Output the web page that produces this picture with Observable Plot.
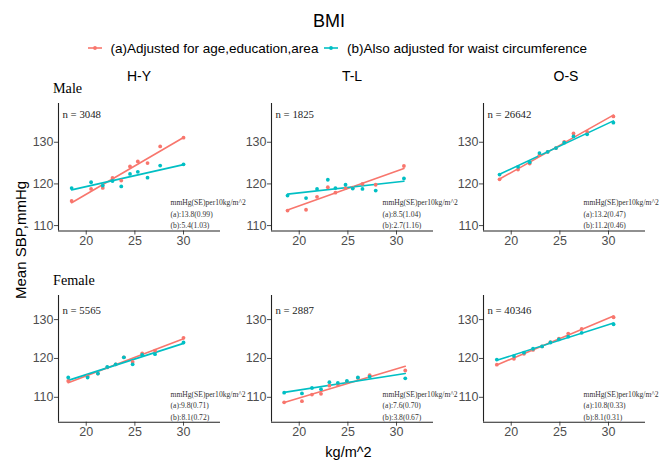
<!DOCTYPE html>
<html>
<head>
<meta charset="utf-8">
<script src="https://cdn.jsdelivr.net/npm/d3@7"></script>
<script src="https://cdn.jsdelivr.net/npm/@observablehq/plot@0.6"></script>
<style>
  html, body { margin: 0; padding: 0; background: #fff; }
  #root { position: relative; width: 669px; height: 462px; overflow: hidden; background: #fff; }
  .panel { position: absolute; }
  #overlay { position: absolute; left: 0; top: 0; }
</style>
</head>
<body>
<div id="root"></div>
<script>
// ---------- data ----------
const chartTitle = "BMI";
const seriesLabels = ["(a)Adjusted for age,education,area", "(b)Also adjusted for waist circumference"];
const columns = ["H-Y", "T-L", "O-S"];
const rows = ["Male", "Female"];
const yTitle = "Mean SBP,mmHg";
const xTitle = "kg/m^2";
const xTicks = [20, 25, 30];
const yTicks = [110, 120, 130];
const nCounts = [[3048, 1825, 26642], [5565, 2887, 40346]];
const noteHeader = "mmHg(SE)per10kg/m^2";
const slopesA = [["13.8(0.99)", "8.5(1.04)", "13.2(0.47)"], ["9.8(0.71)", "7.6(0.70)", "10.8(0.33)"]];
const slopesB = [["5.4(1.03)", "2.7(1.16)", "11.2(0.46)"], ["8.1(0.72)", "3.8(0.67)", "8.1(0.31)"]];

// Male H-Y
const bmiMaleHY = [18.5, 20.5, 21.7, 22.7, 23.6, 24.5, 25.3, 26.3, 27.6, 30.0];
const sbpAMaleHY = [115.9, 118.8, 119.05, 121.45, 120.8, 124.2, 125.4, 125.0, 129.0, 131.1];
const sbpBMaleHY = [119.0, 120.4, 119.6, 120.7, 119.4, 122.4, 122.9, 121.5, 124.4, 124.7];
// Male T-L
const bmiMaleTL = [18.8, 20.7, 21.83, 22.94, 23.72, 24.76, 25.5, 26.5, 27.86, 30.76];
const sbpAMaleTL = [113.6, 113.8, 116.9, 119.2, 117.9, 119.0, 119.1, 120.0, 119.8, 124.3];
const sbpBMaleTL = [117.2, 116.6, 118.8, 121.0, 119.0, 119.8, 118.9, 118.8, 118.4, 121.3];
// Male O-S
const bmiMaleOS = [18.8, 20.7, 21.9, 22.9, 23.75, 24.6, 25.45, 26.4, 27.8, 30.5];
const sbpAMaleOS = [121.1, 123.45, 124.9, 126.9, 127.7, 128.6, 130.1, 132.1, 132.5, 136.2];
const sbpBMaleOS = [122.25, 124.1, 125.2, 127.4, 127.7, 128.6, 129.9, 131.4, 131.9, 134.7];
// Female H-Y
const bmiFemaleHY = [18.15, 20.14, 21.2, 22.16, 23.03, 23.87, 24.77, 25.75, 27.07, 30.0];
const sbpAFemaleHY = [114.2, 115.4, 116.1, 117.7, 118.5, 120.3, 119.1, 121.3, 122.0, 125.3];
const sbpBFemaleHY = [115.1, 115.1, 116.1, 117.8, 118.5, 120.3, 118.5, 120.9, 121.1, 124.1];
// Female T-L
const bmiFemaleTL = [18.45, 20.28, 21.31, 22.24, 23.1, 23.97, 24.9, 26.03, 27.24, 30.9];
const sbpAFemaleTL = [108.7, 109.0, 110.7, 110.9, 113.0, 113.3, 114.0, 115.0, 115.7, 116.9];
const sbpBFemaleTL = [111.2, 111.0, 112.4, 112.1, 113.9, 113.7, 114.2, 115.1, 115.3, 114.9];
// Female O-S
const bmiFemaleOS = [18.52, 20.28, 21.31, 22.24, 23.17, 24.03, 24.9, 25.86, 27.24, 30.52];
const sbpAFemaleOS = [118.4, 119.9, 121.2, 122.2, 123.1, 124.2, 125.1, 126.4, 127.6, 130.6];
const sbpBFemaleOS = [119.7, 120.6, 121.5, 122.5, 123.1, 124.1, 124.9, 125.6, 126.6, 128.8];

const panelData = [
  [[bmiMaleHY, sbpAMaleHY, sbpBMaleHY], [bmiMaleTL, sbpAMaleTL, sbpBMaleTL], [bmiMaleOS, sbpAMaleOS, sbpBMaleOS]],
  [[bmiFemaleHY, sbpAFemaleHY, sbpBFemaleHY], [bmiFemaleTL, sbpAFemaleTL, sbpBFemaleTL], [bmiFemaleOS, sbpAFemaleOS, sbpBFemaleOS]]
];

// ---------- layout / style ----------
const RED = "#F8766D", CYAN = "#00BFC4";
const SANS = "'Liberation Sans', Arial, sans-serif";
const SERIF = "'Liberation Serif', 'Times New Roman', serif";
const xDomain = [17.15, 33.8];
const yDomains = [[108.7, 139.3], [103.6, 136.2]];
const frameLefts = [58, 271, 483];
const frameTops = [103, 295];
const frameW = 162, frameH = [127.5, 126.7];
const mL = 40, mR = 6, mT = 5, mB = 24;
const noteDx = [112, 111, 100];
const nDy = [11, 15];

const root = document.getElementById("root");

function makePanel(r, c) {
  const [bmi, a, b] = panelData[r][c];
  const data = bmi.flatMap((x, i) => [{x, y: a[i], s: "a"}, {x, y: b[i], s: "b"}]);
  const yDom = yDomains[r];
  const noteStyle = {frameAnchor: "bottom-left", textAnchor: "start", lineAnchor: "middle",
    dx: noteDx[c], fontFamily: SERIF, fontSize: 7.6, fill: "#333", text: d => d};
  const p = Plot.plot({
    width: mL + frameW + mR,
    height: mT + frameH[r] + mB,
    marginLeft: mL, marginRight: mR, marginTop: mT, marginBottom: mB,
    style: {fontFamily: SANS, fontSize: "12.5px", color: "#4d4d4d", background: "transparent", overflow: "visible"},
    x: {domain: xDomain, ticks: xTicks, tickSize: 4, tickPadding: 1, label: null},
    y: {domain: yDom, ticks: yTicks, tickSize: 4, tickPadding: 1, label: null},
    color: {domain: ["a", "b"], range: [RED, CYAN]},
    marks: [
      Plot.ruleX([xDomain[0]], {stroke: "#222", strokeWidth: 1.1}),
      Plot.ruleY([yDom[0]], {stroke: "#222", strokeWidth: 1.1}),
      Plot.linearRegressionY(data, {x: "x", y: "y", stroke: "s", ci: 0, strokeWidth: 1.6}),
      Plot.dot(data, {x: "x", y: "y", fill: "s", r: 1.9}),
      Plot.text([`n = ${nCounts[r][c]}`], {frameAnchor: "top-left", textAnchor: "start", lineAnchor: "middle",
        dx: 4, dy: nDy[r], fontFamily: SERIF, fontSize: 10.8, fill: "#222", text: d => d}),
      Plot.text([noteHeader], {...noteStyle, dy: -28}),
      Plot.text([`(a):${slopesA[r][c]}`], {...noteStyle, dy: -16.5}),
      Plot.text([`(b):${slopesB[r][c]}`], {...noteStyle, dy: -5})
    ]
  });
  p.classList.add("panel");
  p.style.left = (frameLefts[c] - mL) + "px";
  p.style.top = (frameTops[r] - mT) + "px";
  root.appendChild(p);
}

for (let r = 0; r < rows.length; r++)
  for (let c = 0; c < columns.length; c++) makePanel(r, c);

// ---------- titles, legend, strips ----------
const ns = "http://www.w3.org/2000/svg";
const ov = document.createElementNS(ns, "svg");
ov.setAttribute("id", "overlay");
ov.setAttribute("width", 669);
ov.setAttribute("height", 462);
root.appendChild(ov);

function txt(str, x, y, opts = {}) {
  const t = document.createElementNS(ns, "text");
  t.textContent = str;
  t.setAttribute("x", x);
  t.setAttribute("y", y);
  t.setAttribute("font-family", opts.family || SANS);
  t.setAttribute("font-size", opts.size || 14);
  t.setAttribute("fill", opts.fill || "#000");
  t.setAttribute("text-anchor", opts.anchor || "middle");
  t.setAttribute("dominant-baseline", "central");
  if (opts.transform) t.setAttribute("transform", opts.transform);
  ov.appendChild(t);
  return t;
}
function glyph(x, y, color) {
  const l = document.createElementNS(ns, "line");
  l.setAttribute("x1", x - 7); l.setAttribute("x2", x + 7);
  l.setAttribute("y1", y); l.setAttribute("y2", y);
  l.setAttribute("stroke", color); l.setAttribute("stroke-width", 1.6);
  ov.appendChild(l);
  const d = document.createElementNS(ns, "circle");
  d.setAttribute("cx", x); d.setAttribute("cy", y); d.setAttribute("r", 1.9);
  d.setAttribute("fill", color);
  ov.appendChild(d);
}

txt(chartTitle, 329, 21, {size: 18});
glyph(95, 48, RED);
txt(seriesLabels[0], 110.5, 48, {size: 13.5, anchor: "start"});
glyph(331, 48, CYAN);
txt(seriesLabels[1], 347, 48, {size: 13.5, anchor: "start"});

const stripX = [139, 352, 566];
columns.forEach((c, i) => txt(c, stripX[i], 76, {size: 14}));
txt(rows[0], 53, 88, {family: SERIF, size: 14.2, anchor: "start"});
txt(rows[1], 53, 279.5, {family: SERIF, size: 14.2, anchor: "start"});
txt(yTitle, 20, 240, {size: 15, transform: "rotate(-90 20 240)"});
txt(xTitle, 348.5, 452, {size: 14.5});
</script>
</body>
</html>
